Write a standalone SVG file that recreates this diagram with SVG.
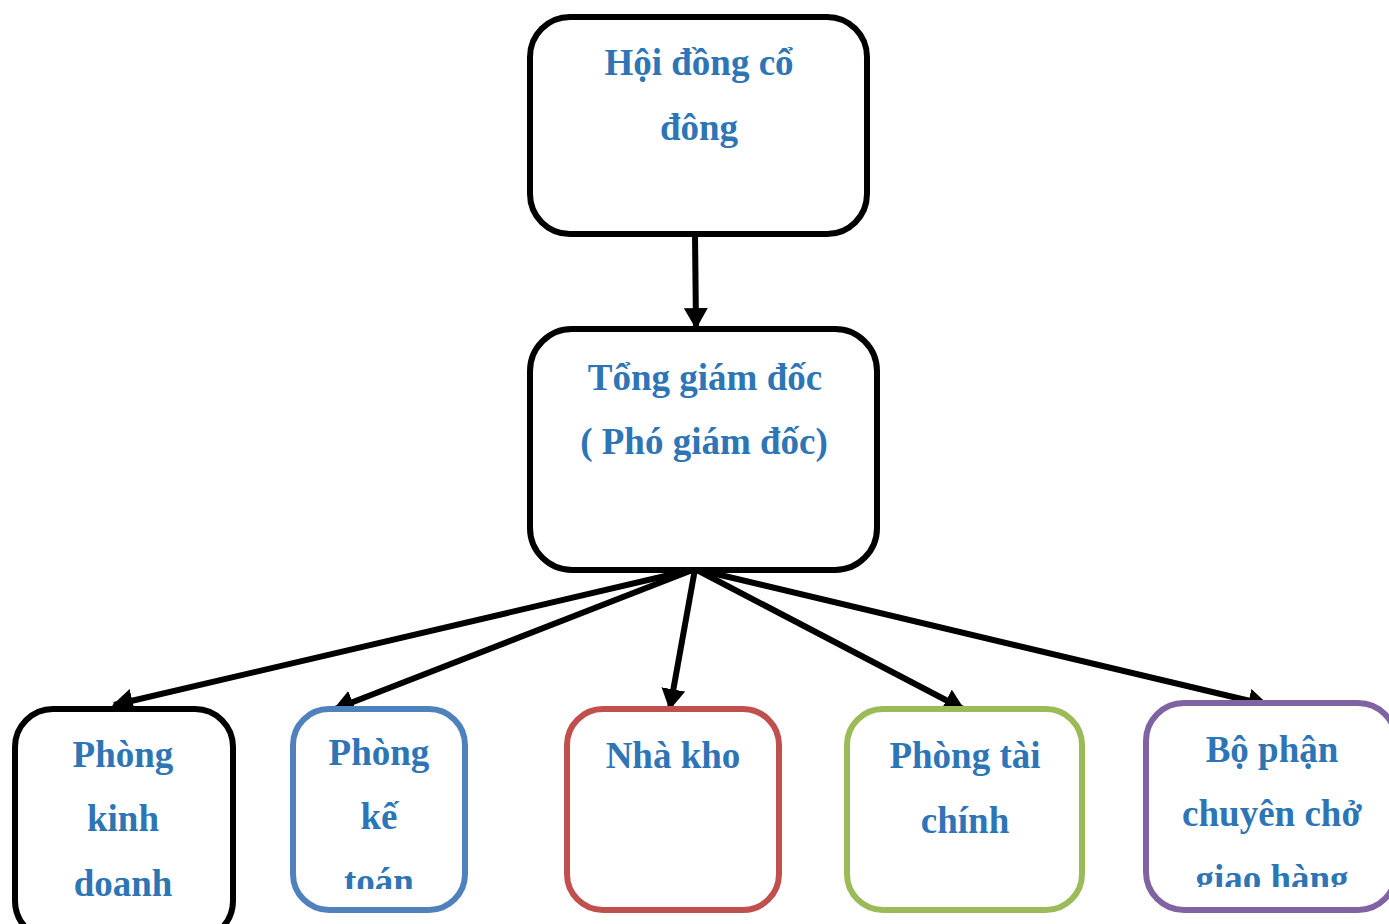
<svg xmlns="http://www.w3.org/2000/svg" width="1389" height="924" viewBox="0 0 1389 924">
<style>
.box{fill:#fff;stroke-width:6}
.t{font-family:"Liberation Serif","Times New Roman",serif;font-weight:bold;font-size:37px;fill:#2E75B6;text-anchor:middle}
.c{stroke:#000;stroke-width:6;fill:none}
</style>
<defs>
<marker id="ah" viewBox="0 0 10 10" refX="9" refY="5" markerWidth="3.5" markerHeight="4" markerUnits="strokeWidth" orient="auto" preserveAspectRatio="none">
<path d="M0,0 L10,5 L0,10 Z" fill="#000"/>
</marker>
<clipPath id="cl2"><rect x="290" y="700" width="180" height="189"/></clipPath>
<clipPath id="cl5"><rect x="1140" y="690" width="249" height="197"/></clipPath>
</defs>
<rect width="1389" height="924" fill="#fff"/>
<g id="connectors">
<line class="c" x1="695" y1="234" x2="696" y2="327" marker-end="url(#ah)"/>
<line class="c" x1="695" y1="569" x2="114" y2="705" marker-end="url(#ah)"/>
<line class="c" x1="695" y1="569" x2="335" y2="709" marker-end="url(#ah)"/>
<line class="c" x1="695" y1="569" x2="670" y2="708" marker-end="url(#ah)"/>
<line class="c" x1="695" y1="569" x2="963" y2="709" marker-end="url(#ah)"/>
<line class="c" x1="695" y1="569" x2="1267" y2="705" marker-end="url(#ah)"/>
</g>
<g id="hoi-dong-co-dong">
<rect class="box" x="530" y="17" width="337" height="217" rx="40" stroke="#000"/>
<text class="t" x="699" y="75">Hội đồng cổ</text>
<text class="t" x="699" y="140">đông</text>
</g>
<g id="tong-giam-doc">
<rect class="box" x="530" y="329" width="347" height="241" rx="42" stroke="#000"/>
<text class="t" x="705" y="390">Tổng giám đốc</text>
<text class="t" x="704" y="454">( Phó giám đốc)</text>
</g>
<g id="phong-kinh-doanh">
<rect class="box" x="15" y="709" width="218" height="230" rx="38" stroke="#000"/>
<text class="t" x="123" y="767">Phòng</text>
<text class="t" x="123" y="831">kinh</text>
<text class="t" x="123" y="896">doanh</text>
</g>
<g id="phong-ke-toan">
<rect class="box" x="293" y="709" width="172" height="201" rx="36" stroke="#4F81BD"/>
<g clip-path="url(#cl2)">
<text class="t" x="379" y="765">Phòng</text>
<text class="t" x="379" y="829">kế</text>
<text class="t" x="379" y="894">toán</text>
</g>
</g>
<g id="nha-kho">
<rect class="box" x="567" y="709" width="212" height="201" rx="36" stroke="#C0504D"/>
<text class="t" x="673" y="768">Nhà kho</text>
</g>
<g id="phong-tai-chinh">
<rect class="box" x="847" y="709" width="235" height="201" rx="36" stroke="#9BBB59"/>
<text class="t" x="965" y="768">Phòng tài</text>
<text class="t" x="965" y="833">chính</text>
</g>
<g id="bo-phan-chuyen-cho">
<rect class="box" x="1146" y="703" width="250" height="207" rx="38" stroke="#8064A2"/>
<g clip-path="url(#cl5)">
<text class="t" x="1272" y="762">Bộ phận</text>
<text class="t" x="1272" y="826">chuyên chở</text>
<text class="t" x="1272" y="891">giao hàng</text>
</g>
</g>
</svg>
